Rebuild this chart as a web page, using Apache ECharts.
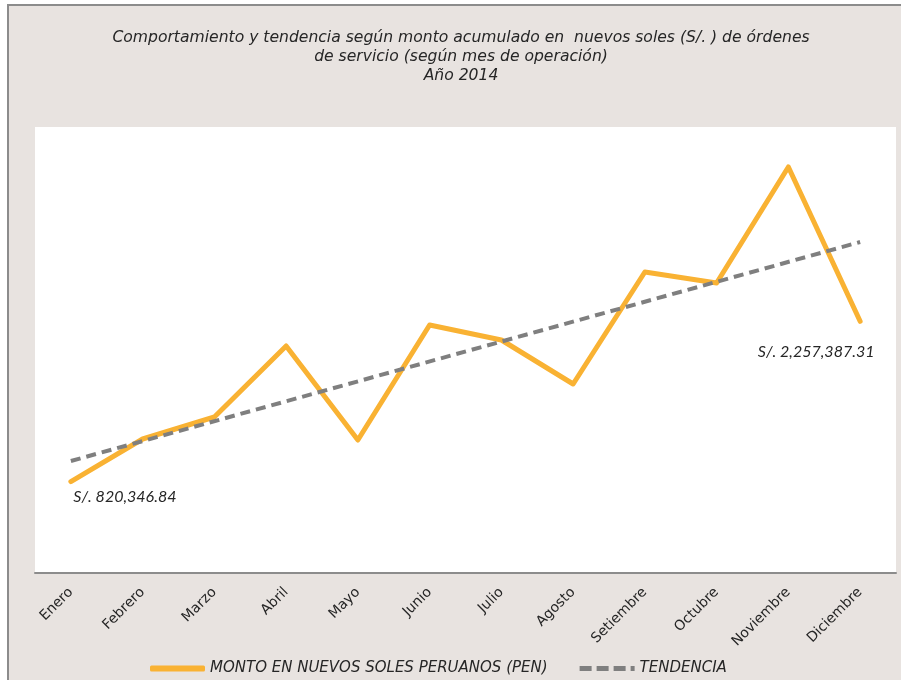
<!DOCTYPE html>
<html lang="es">
<head>
    <meta charset="UTF-8">
    <title>Monto acumulado 2014</title>
    <script src="https://cdn.jsdelivr.net/npm/echarts@6/dist/echarts.min.js"></script>
    <style>
        body { margin: 0; background: #fff; }
    </style>
</head>
<body>
    <div id="main" style="width: 901px; height: 680px;"></div>
    <script>
        // datos
        var meses = ['Enero', 'Febrero', 'Marzo', 'Abril', 'Mayo', 'Junio', 'Julio',
            'Agosto', 'Setiembre', 'Octubre', 'Noviembre', 'Diciembre'];
        var montos = [820346.84, 1201800, 1399100, 2035900, 1192800, 2224200, 2089700,
            1695100, 2699600, 2600900, 3641300, 2257387.31];
        // tendencia: solo extremos, la linea es recta
        var tendencia = [1004500, null, null, null, null, null, null, null, null, null, null, 2968600];

        var naranja = '#F9B233';
        var gris = '#7f7f7f';
        var fuente = 'Lato';
        var fuenteAncha = 'DejaVu Sans';

        function soles(v) {
            return 'S/. ' + v.toLocaleString('en-US', { minimumFractionDigits: 2, maximumFractionDigits: 2 });
        }

        var myChart = echarts.init(document.getElementById('main'));

        myChart.setOption({
            textStyle: { fontFamily: fuente },
            graphic: [{
                type: 'rect',
                z: -10,
                shape: { x: 8, y: 5, width: 900, height: 690 },
                style: { fill: '#e8e3e0', stroke: '#8c8c8c', lineWidth: 2 }
            }],
            title: {
                text: 'Comportamiento y tendencia según monto acumulado en  nuevos soles (S/. ) de órdenes\nde servicio (según mes de operación)\nAño 2014',
                left: 461,
                top: 28,
                padding: 0,
                textAlign: 'center',
                textStyle: {
                    fontSize: 15.6,
                    fontStyle: 'italic',
                    fontWeight: 'normal',
                    color: '#262626',
                    lineHeight: 19,
                    fontFamily: fuenteAncha
                }
            },
            grid: {
                left: 35,
                right: 5,
                top: 127,
                bottom: 107,
                show: true,
                backgroundColor: '#fff',
                borderWidth: 0
            },
            legend: {
                bottom: -1,
                left: 145,
                itemWidth: 55,
                itemHeight: 6,
                itemGap: 32,
                textStyle: { fontSize: 15, fontStyle: 'italic', color: '#262626', fontFamily: fuenteAncha },
                data: [
                    { name: 'MONTO EN NUEVOS SOLES PERUANOS (PEN)', icon: 'roundRect' },
                    { name: 'TENDENCIA', icon: 'path://M0,0h12v5h-12z M17,0h12v5h-12z M34,0h12v5h-12z M51,0h4v5h-4z' }
                ]
            },
            xAxis: {
                type: 'category',
                data: meses,
                axisLine: { lineStyle: { color: '#8c8c8c', width: 2 } },
                axisTick: { show: false },
                axisLabel: { rotate: 45, color: '#262626', fontSize: 14, margin: 17, interval: 0, fontFamily: fuenteAncha }
            },
            yAxis: {
                type: 'value',
                min: 0,
                max: 4000000,
                show: false,
                splitLine: { show: false }
            },
            series: [
                {
                    name: 'MONTO EN NUEVOS SOLES PERUANOS (PEN)',
                    type: 'line',
                    data: montos,
                    symbol: 'none',
                    color: naranja,
                    lineStyle: { color: naranja, width: 5, cap: 'round', join: 'round' },
                    z: 2,
                    markPoint: {
                        symbol: 'circle',
                        symbolSize: 1,
                        itemStyle: { color: 'rgba(0,0,0,0)' },
                        label: {
                            show: true,
                            position: 'inside',
                            fontSize: 16,
                            fontStyle: 'italic',
                            color: '#262626',
                            fontFamily: fuente,
                            formatter: function (p) { return soles(p.value); }
                        },
                        data: [
                            { coord: [0, montos[0]], value: montos[0], label: { offset: [54, 15] } },
                            { coord: [11, montos[11]], value: montos[11], label: { offset: [-44, 31] } }
                        ]
                    }
                },
                {
                    name: 'TENDENCIA',
                    type: 'line',
                    data: tendencia,
                    connectNulls: true,
                    symbol: 'none',
                    color: gris,
                    lineStyle: { color: gris, width: 4, type: [10, 6] },
                    z: 3
                }
            ]
        });
    </script>
</body>
</html>
